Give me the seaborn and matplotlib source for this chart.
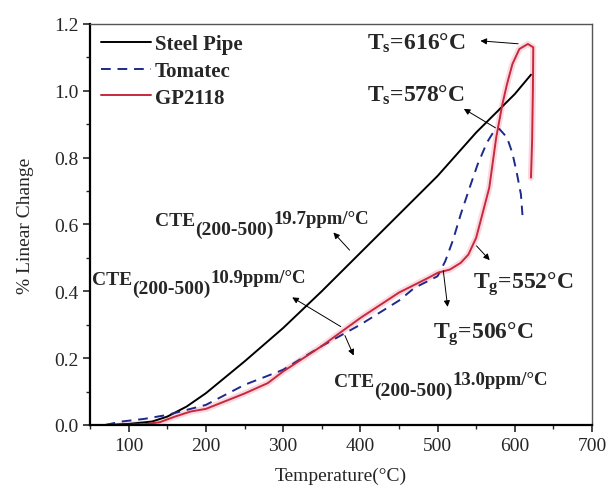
import numpy as np
import pandas as pd
import matplotlib
matplotlib.use("Agg")
import matplotlib.pyplot as plt
import seaborn as sns

# data (temperature in C, % linear change)
steel_t = [70, 100, 130, 150, 175, 200, 250, 300, 350, 400, 450, 500, 550, 600, 621]
steel_v = [0.0, 0.003, 0.01, 0.025, 0.055, 0.095, 0.19, 0.29, 0.40, 0.515, 0.63, 0.745, 0.875, 0.99, 1.048]

tomatec_t = [70, 90, 120, 150, 175, 200, 250, 300, 350, 400, 450, 470, 500, 510, 520, 530,
             542, 552, 564, 572, 580, 590, 597, 603, 608, 610]
tomatec_v = [0.0, 0.01, 0.018, 0.03, 0.045, 0.06, 0.12, 0.165, 0.236, 0.30, 0.372, 0.41, 0.445,
             0.49, 0.553, 0.63, 0.713, 0.78, 0.845, 0.875, 0.886, 0.86, 0.813, 0.75, 0.69, 0.628]

gp_t = [90, 120, 140, 160, 180, 200, 250, 280, 300, 350, 400, 450, 488, 500, 516, 530, 540, 550,
        558, 567, 576, 584, 590, 597, 606, 617, 624, 623.5, 622.5, 621]
gp_v = [0.0, 0.002, 0.008, 0.025, 0.04, 0.048, 0.094, 0.125, 0.16, 0.236, 0.32, 0.396, 0.44, 0.455,
        0.465, 0.485, 0.51, 0.56, 0.63, 0.71, 0.86, 0.96, 1.02, 1.08, 1.125, 1.14, 1.13, 1.0, 0.85, 0.74]

sns.set_theme(style="ticks")
plt.rcParams["font.family"] = ["Liberation Serif", "DejaVu Serif"]
plt.rcParams["mathtext.fontset"] = "custom"
plt.rcParams["mathtext.rm"] = "Liberation Serif"
plt.rcParams["mathtext.bf"] = "Liberation Serif:bold"
plt.rcParams["mathtext.it"] = "Liberation Serif:italic"

fig = plt.figure(figsize=(6.09, 4.89), dpi=100)
ax = fig.add_axes([0.148, 0.129, 0.824, 0.82])

steel = pd.DataFrame({"t": steel_t, "v": steel_v})
tomatec = pd.DataFrame({"t": tomatec_t, "v": tomatec_v})
gp = pd.DataFrame({"t": gp_t, "v": gp_v})

# pale halo under the red curve
sns.lineplot(data=gp, x="t", y="v", sort=False, estimator=None, ax=ax,
             color="#f9d0da", linewidth=4.5, alpha=0.8, legend=False)
sns.lineplot(data=steel, x="t", y="v", sort=False, estimator=None, ax=ax,
             color="black", linewidth=1.4, label="Steel Pipe")
sns.lineplot(data=tomatec, x="t", y="v", sort=False, estimator=None, ax=ax,
             color="#1c2a8c", linewidth=1.4, linestyle=(0, (5, 3.5)), label="Tomatec")
sns.lineplot(data=gp, x="t", y="v", sort=False, estimator=None, ax=ax,
             color="#c8283c", linewidth=1.4, label="GP2118")

ax.set_xlim(50, 700)
ax.set_ylim(0, 1.2)
ax.set_xticks(np.arange(100, 701, 100))
ax.set_xticks(np.arange(50, 701, 50), minor=True)
ax.set_yticks(np.arange(0, 1.21, 0.2))
ax.set_yticks(np.arange(0, 1.21, 0.1), minor=True)
ax.set_yticklabels([f"{v:.1f}" for v in np.arange(0, 1.21, 0.2)])
ax.tick_params(axis="both", which="major", direction="out", length=5, width=1.2,
               labelsize=14, top=False, right=False)
ax.tick_params(axis="both", which="minor", direction="out", length=3, width=1.0,
               top=False, right=False)
for s in ["left", "bottom"]:
    ax.spines[s].set_linewidth(1.6)
    ax.spines[s].set_color("black")
for s in ["top", "right"]:
    ax.spines[s].set_linewidth(1.0)
    ax.spines[s].set_color("#555555")
    ax.spines[s].set_visible(True)

ax.set_xlabel("Temperature(\u00b0C)", fontsize=14, labelpad=9)
ax.set_ylabel("% Linear Change", fontsize=14, labelpad=14)

leg = ax.legend(loc="upper left", frameon=False, handlelength=2.4, handletextpad=0.2,
                borderaxespad=0.1, labelspacing=0.32, prop={"weight": "bold", "size": 15})

arrow = dict(arrowstyle="-|>", color="black", lw=0.7, mutation_scale=9)

def arr(head, tail):
    ax.annotate("", xy=head, xytext=tail, arrowprops=arrow)

big = dict(fontsize=17, fontweight="bold")
ax.text(408, 1.145, r"$\mathbf{T_s}$" + "=616\u00b0C", va="center", **big)
arr((552, 1.15), (608, 1.14))
ax.text(408, 0.99, r"$\mathbf{T_s}$" + "=578\u00b0C", va="center", **big)
arr((531, 0.95), (578, 0.885))
ax.text(546, 0.425, r"$\mathbf{T_g}$" + "=552\u00b0C", va="center", **big)
arr((570, 0.487), (548, 0.542))
ax.text(494, 0.275, r"$\mathbf{T_g}$" + "=506\u00b0C", va="center", **big)
arr((513.5, 0.345), (507, 0.47))


def cte_label(x, y, val):
    # CTE, then the range lowered, then the value on the main baseline
    t1 = ax.text(x, y, "CTE", fontsize=14, fontweight="bold", va="baseline")
    t2 = ax.annotate("(200-500)", xy=(1, 0), xycoords=t1, xytext=(0, -6.5),
                     textcoords="offset points", fontsize=14, fontweight="bold",
                     va="bottom", ha="left")
    ax.annotate(val + "ppm/\u00b0C", xy=(1, 0), xycoords=t2, xytext=(0, 8),
                textcoords="offset points", fontsize=13.5, fontweight="bold",
                va="bottom", ha="left")


cte_label(134, 0.597, "19.7")
arr((362.7, 0.582), (388.5, 0.517))
cte_label(53, 0.421, "10.9")
arr((308.7, 0.386), (377.7, 0.29))
cte_label(365.6, 0.117, "13.0")
arr((392.8, 0.2), (378.6, 0.275))

fig.savefig("out.png", dpi=100)
